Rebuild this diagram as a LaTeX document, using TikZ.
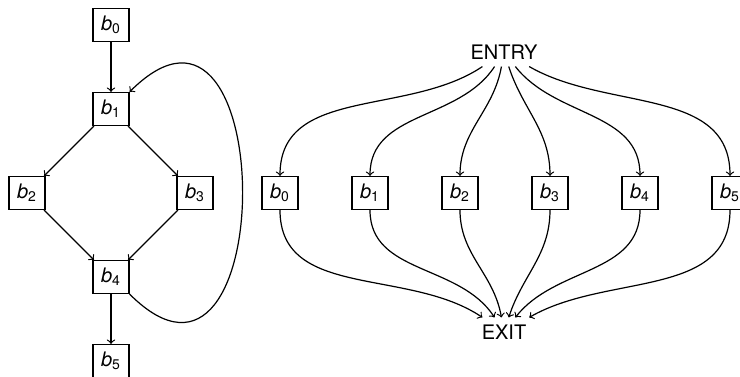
\documentclass[tikz,border=0pt]{standalone}
\usepackage{fontspec}
\setmainfont{TeX Gyre Heros}
\usetikzlibrary{positioning}
\newcommand{\blk}[1]{\textit{b}\textsubscript{#1}}

\begin{document}
\begin{tikzpicture}[>=to, line width=0.6pt, node distance=42pt, on grid,
    block/.style={draw, minimum width=18pt, minimum height=16.5pt, inner sep=1pt}]
  \useasboundingbox (0,0) rectangle (370pt,-188pt);

  % Nodes: loop
  \node[block] (b0) at (55.5pt,-12.5pt) {\blk{0}};
  \node[block] (b1) [below=of b0] {\blk{1}};
  \node[block] (b2) [below left=42pt and 42pt of b1] {\blk{2}};
  \node[block] (b3) [below right=42pt and 42pt of b1] {\blk{3}};
  \node[block] (b4) [below=84pt of b1] {\blk{4}};
  \node[block] (b5) [below=of b4] {\blk{5}};

  % Arrows: loop
  \draw[->] (b0) -- (b1);
  \draw[->] (b1) -- (b2);
  \draw[->] (b1) -- (b3);
  \draw[->] (b2) -- (b4);
  \draw[->] (b3) -- (b4);
  \draw[->] (b4) -- (b5);
  \draw[->] (b4.south east) to[out=-45, in=45, looseness=2.7] (b1.north east);

  % Nodes: entry/exit
  \node (entry) at (252pt,-26pt) {ENTRY};
  \node (exit) at (252pt,-166pt) {EXIT};
  \foreach \i in {0,...,5}
    \node[block] (r\i) at ({140pt+45pt*\i},-96.5pt) {\blk{\i}};

  % Arrows: entry/exit
  \foreach \i/\o/\n in {0/-146/146, 1/-123/123, 2/-100/100, 3/-72/72, 4/-52/52, 5/-30/30} {
    \draw[->] (entry) to[out=\o, in=90] (r\i);
    \draw[->] (r\i) to[out=-90, in=\n] (exit);
  }
\end{tikzpicture}
\end{document}
